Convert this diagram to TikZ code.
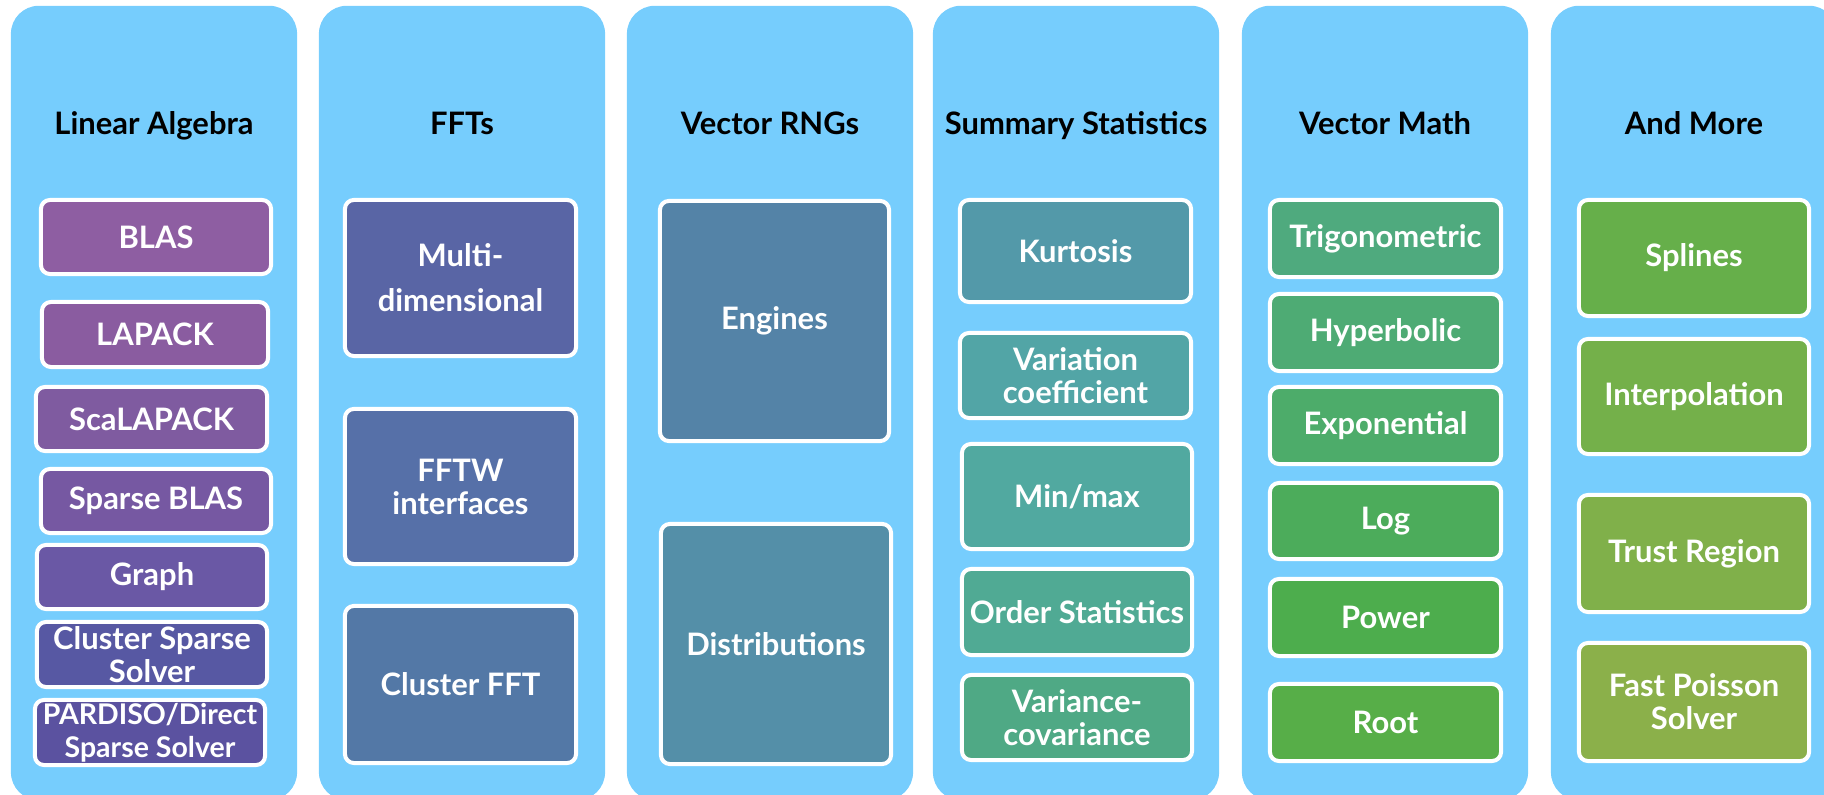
\documentclass[tikz,border=0pt]{standalone}
\usepackage{fontspec}
\setmainfont{Lato}
\definecolor{colbg}{HTML}{76CDFD}
\definecolor{cBlas}{HTML}{8E5EA2}
\definecolor{cLapack}{HTML}{8A5CA0}
\definecolor{cScalapack}{HTML}{7F5BA0}
\definecolor{cSpblas}{HTML}{7658A2}
\definecolor{cGraph}{HTML}{6A58A5}
\definecolor{cCluster}{HTML}{5758A3}
\definecolor{cPardiso}{HTML}{5B52A0}
\definecolor{cMulti}{HTML}{5965A5}
\definecolor{cFftw}{HTML}{5670A8}
\definecolor{cClfft}{HTML}{5378A6}
\definecolor{cEngines}{HTML}{5483A7}
\definecolor{cDistr}{HTML}{548FA8}
\definecolor{cKurt}{HTML}{5399A9}
\definecolor{cVarc}{HTML}{52A5A6}
\definecolor{cMinmax}{HTML}{51A9A0}
\definecolor{cOrder}{HTML}{50AA94}
\definecolor{cVarcov}{HTML}{4FA985}
\definecolor{cTrig}{HTML}{4FAA7E}
\definecolor{cHyp}{HTML}{4EAB74}
\definecolor{cExp}{HTML}{4DAC6A}
\definecolor{cLog}{HTML}{4CAC5B}
\definecolor{cPow}{HTML}{4DAD4D}
\definecolor{cRoot}{HTML}{57AE48}
\definecolor{cSpl}{HTML}{66AF4A}
\definecolor{cInterp}{HTML}{74B04A}
\definecolor{cTrust}{HTML}{80B04A}
\definecolor{cPoisson}{HTML}{8BB04A}
\tikzset{
  column/.style={
    fill=colbg, rounded corners=0.28cm,
    minimum width=2.86cm, minimum height=7.94cm, inner sep=0pt
  },
  header/.style={
    anchor=base, font=\fontsize{8.8}{10}\selectfont\bfseries, text=black
  },
  libbox/.style={
    draw=white, line width=0.04cm, rounded corners=0.09cm, inner sep=0pt,
    text=white, align=center, font=\fontsize{8.8}{9.4}\selectfont\bfseries
  }
}

\begin{document}
\begin{tikzpicture}[x=0.01cm, y=-0.01cm]

    \clip (0,0) rectangle (1824,795);
    \useasboundingbox (0,0) rectangle (1824,795);

    % Column backgrounds
    \node[column] (colLA)  at (154,403)  {};
    \node[column] (colFFT) at (462,403)  {};
    \node[column] (colRNG) at (770,403)  {};
    \node[column] (colSS)  at (1076,403) {};
    \node[column] (colVM)  at (1385,403) {};
    \node[column] (colMore) at (1694,403) {};

    % Column titles
    \node[header] (hLA)  at (154,135)  {Linear Algebra};
    \node[header] (hFFT) at (462,135)  {FFTs};
    \node[header] (hRNG) at (770,135)  {Vector RNGs};
    \node[header] (hSS)  at (1076,135) {Summary Statistics};
    \node[header] (hVM)  at (1385,135) {Vector Math};
    \node[header] (hMore) at (1694,135) {And More};

    % Linear algebra boxes
    \node[libbox, fill=cBlas, minimum width=2.30cm, minimum height=0.74cm] (blas) at (156,237) {BLAS};
    \node[libbox, fill=cLapack, minimum width=2.26cm, minimum height=0.65cm] (lapack) at (155,334.5) {LAPACK};
    \node[libbox, fill=cScalapack, minimum width=2.31cm, minimum height=0.64cm] (scalapack) at (151.5,419) {ScaLAPACK};
    \node[libbox, fill=cSpblas, minimum width=2.30cm, minimum height=0.64cm] (spblas) at (156,501) {Sparse BLAS};
    \node[libbox, fill=cGraph, minimum width=2.30cm, minimum height=0.64cm] (graph) at (152,577) {Graph};
    \node[libbox, fill=cCluster, minimum width=2.30cm, minimum height=0.65cm] (clsolver) at (152,654.5) {Cluster Sparse\\Solver};
    \node[libbox, fill=cPardiso, minimum width=2.30cm, minimum height=0.65cm, font=\fontsize{8.1}{9.4}\selectfont\bfseries] (pardiso) at (150,732.5) {PARDISO/Direct\\Sparse Solver};

    % FFT boxes
    \node[libbox, fill=cMulti, minimum width=2.31cm, minimum height=1.56cm, font=\fontsize{8.8}{12.8}\selectfont\bfseries] (multi) at (460.5,278) {Multi-\\dimensional};
    \node[libbox, fill=cFftw, minimum width=2.31cm, minimum height=1.55cm] (fftw) at (460.5,486.5) {FFTW\\interfaces};
    \node[libbox, fill=cClfft, minimum width=2.31cm, minimum height=1.57cm] (clfft) at (460.5,684.5) {Cluster FFT};

    % RNG boxes
    \node[libbox, fill=cEngines, minimum width=2.29cm, minimum height=2.40cm] (engines) at (774.5,321) {Engines};
    \node[libbox, fill=cDistr, minimum width=2.30cm, minimum height=2.40cm] (distr) at (776,644) {Distributions};

    % Summary statistics boxes
    \node[libbox, fill=cKurt, minimum width=2.31cm, minimum height=1.02cm] (kurt) at (1075.5,251) {Kurtosis};
    \node[libbox, fill=cVarc, minimum width=2.31cm, minimum height=0.85cm] (varcoef) at (1075.5,375.5) {Variation\\coefficient};
    \node[libbox, fill=cMinmax, minimum width=2.30cm, minimum height=1.05cm] (minmax) at (1077,496.5) {Min/max};
    \node[libbox, fill=cOrder, minimum width=2.30cm, minimum height=0.86cm] (order) at (1077,612) {Order Statistics};
    \node[libbox, fill=cVarcov, minimum width=2.30cm, minimum height=0.85cm] (varcov) at (1077,717.5) {Variance-\\covariance};

    % Vector math boxes
    \node[libbox, fill=cTrig, minimum width=2.31cm, minimum height=0.77cm] (trig) at (1385.5,238.5) {Trigonometric};
    \node[libbox, fill=cHyp, minimum width=2.31cm, minimum height=0.77cm] (hyp) at (1385.5,332.5) {Hyperbolic};
    \node[libbox, fill=cExp, minimum width=2.31cm, minimum height=0.77cm] (expo) at (1385.5,425.5) {Exponential};
    \node[libbox, fill=cLog, minimum width=2.31cm, minimum height=0.76cm] (log) at (1385.5,521) {Log};
    \node[libbox, fill=cPow, minimum width=2.31cm, minimum height=0.77cm] (pow) at (1385.5,617.5) {Power};
    \node[libbox, fill=cRoot, minimum width=2.31cm, minimum height=0.77cm] (root) at (1385.5,722.5) {Root};

    % And more boxes
    \node[libbox, fill=cSpl, minimum width=2.30cm, minimum height=1.16cm] (splines) at (1694,258) {Splines};
    \node[libbox, fill=cInterp, minimum width=2.30cm, minimum height=1.15cm] (interp) at (1694,396.5) {Interpolation};
    \node[libbox, fill=cTrust, minimum width=2.30cm, minimum height=1.17cm] (trust) at (1694,553.5) {Trust Region};
    \node[libbox, fill=cPoisson, minimum width=2.30cm, minimum height=1.18cm] (poisson) at (1694,702) {Fast Poisson\\Solver};

\end{tikzpicture}
\end{document}
